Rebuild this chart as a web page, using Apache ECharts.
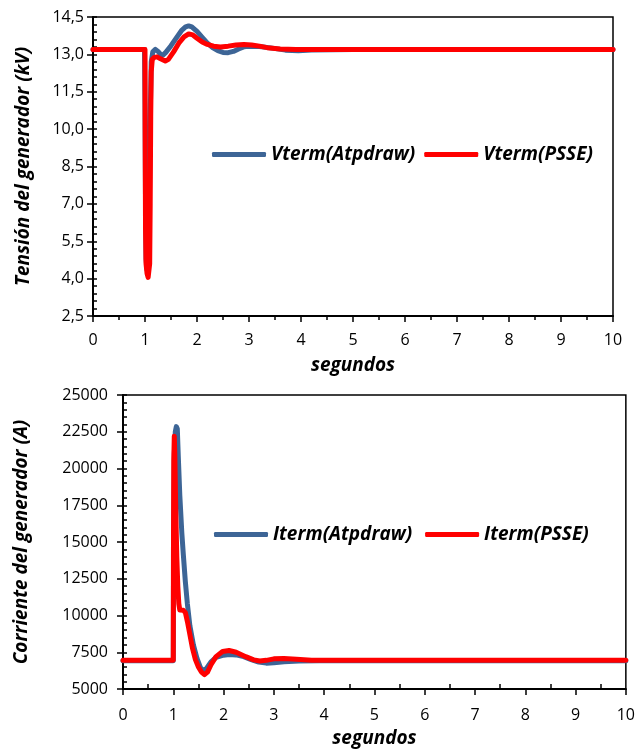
<!DOCTYPE html>
<html>
<head>
<meta charset="utf-8">
<title>Tensión y corriente del generador</title>
<script src="https://cdn.jsdelivr.net/npm/echarts@6/dist/echarts.min.js"></script>
<style>
    html, body { margin: 0; padding: 0; background: #fff; }
    #main { width: 638px; height: 749px; }
</style>
</head>
<body>
<div id="main"></div>
<script>
// Tensión del generador (kV) - Atpdraw
var tVAtp = [0, 0.99, 1.0, 1.01, 1.02, 1.04, 1.06, 1.08, 1.1, 1.12, 1.15, 1.2, 1.25, 1.3, 1.35, 1.4, 1.5, 1.6, 1.7, 1.78, 1.84, 1.9, 2.0, 2.1, 2.2, 2.3, 2.4, 2.5, 2.6, 2.7, 2.8, 2.9, 3.0, 3.2, 3.45, 3.7, 3.95, 4.2, 5, 10];
var vAtp = [13.2, 13.2, 11.0, 7.0, 4.8, 4.35, 4.35, 6.0, 10.5, 12.7, 13.1, 13.2, 13.12, 13.0, 12.98, 13.08, 13.35, 13.65, 13.95, 14.1, 14.14, 14.1, 13.92, 13.68, 13.45, 13.27, 13.15, 13.08, 13.07, 13.12, 13.22, 13.3, 13.33, 13.32, 13.25, 13.17, 13.15, 13.18, 13.2, 13.2];

// Tensión del generador (kV) - PSSE
var tVPsse = [0, 1.0, 1.003, 1.01, 1.02, 1.04, 1.06, 1.07, 1.08, 1.09, 1.1, 1.11, 1.12, 1.14, 1.18, 1.23, 1.3, 1.39, 1.45, 1.55, 1.65, 1.75, 1.84, 1.92, 2.0, 2.1, 2.2, 2.32, 2.45, 2.6, 2.75, 2.9, 3.05, 3.2, 3.35, 3.6, 3.9, 10];
var vPsse = [13.2, 13.2, 10.0, 6.0, 4.6, 4.2, 4.05, 4.0, 4.1, 4.6, 7.0, 10.5, 12.3, 12.8, 12.88, 12.9, 12.82, 12.73, 12.8, 13.1, 13.45, 13.7, 13.82, 13.78, 13.65, 13.5, 13.4, 13.33, 13.3, 13.33, 13.38, 13.4, 13.38, 13.33, 13.27, 13.22, 13.2, 13.2];

// Corriente del generador (A) - Atpdraw
var tIAtp = [0, 1.0, 1.005, 1.02, 1.04, 1.06, 1.07, 1.08, 1.1, 1.13, 1.17, 1.2, 1.24, 1.28, 1.33, 1.4, 1.47, 1.54, 1.6, 1.66, 1.75, 1.85, 2.0, 2.11, 2.25, 2.4, 2.55, 2.7, 2.85, 3.0, 3.2, 3.5, 3.9, 10];
var iAtp = [6920, 6920, 14000, 21000, 22500, 22850, 22900, 22700, 20800, 18150, 15600, 14130, 12300, 10800, 9300, 8000, 7100, 6450, 6250, 6400, 6850, 7150, 7300, 7350, 7320, 7200, 7000, 6830, 6760, 6780, 6860, 6910, 6920, 6920];

// Corriente del generador (A) - PSSE
var tIPsse = [0, 1.0, 1.003, 1.01, 1.02, 1.03, 1.05, 1.07, 1.09, 1.11, 1.13, 1.16, 1.2, 1.24, 1.28, 1.33, 1.38, 1.44, 1.5, 1.56, 1.62, 1.68, 1.75, 1.85, 1.98, 2.11, 2.25, 2.44, 2.6, 2.72, 2.85, 3.0, 3.2, 3.45, 3.75, 10];
var iPsse = [6950, 6950, 14000, 20500, 22200, 21000, 17080, 14000, 12000, 10800, 10370, 10250, 10350, 10200, 9600, 8700, 7800, 7000, 6500, 6150, 5980, 6150, 6650, 7200, 7550, 7620, 7500, 7200, 6980, 6900, 6950, 7050, 7080, 7020, 6960, 6950];

// Ejes
var xTicks = [0, 1, 2, 3, 4, 5, 6, 7, 8, 9, 10];
var vTicks = [2.5, 4.0, 5.5, 7.0, 8.5, 10.0, 11.5, 13.0, 14.5];
var iTicks = [5000, 7500, 10000, 12500, 15000, 17500, 20000, 22500, 25000];

var seriesNames = ['Vterm(Atpdraw)', 'Vterm(PSSE)', 'Iterm(Atpdraw)', 'Iterm(PSSE)'];

var BLUE = '#3d6596';
var RED = '#ff0000';
var FONT = 'Open Sans';

function pairs(t, v) {
    var out = [];
    for (var i = 0; i < t.length; i++) {
        out.push([t[i], v[i]]);
    }
    return out;
}

function lineSeries(name, xi, yi, data, color) {
    return {
        name: name,
        type: 'line',
        xAxisIndex: xi,
        yAxisIndex: yi,
        data: data,
        symbol: 'none',
        showSymbol: false,
        itemStyle: { color: color },
        lineStyle: { width: 5, color: color, cap: 'round', join: 'round' }
    };
}

var axisLineStyle = { show: true, lineStyle: { color: '#000', width: 2 } };
var nameStyle = { color: '#000', fontFamily: FONT, fontSize: 19, fontWeight: 'bold', fontStyle: 'italic' };

// eje X principal
function xMain(gi, margin, gap, minorOut) {
    return {
        type: 'value',
        gridIndex: gi,
        min: xTicks[0],
        max: xTicks[xTicks.length - 1],
        interval: xTicks[1] - xTicks[0],
        name: 'segundos',
        nameLocation: 'middle',
        nameGap: gap,
        nameTextStyle: nameStyle,
        axisLine: axisLineStyle,
        axisTick: { show: true, inside: false, length: 6, lineStyle: { color: '#000', width: 1.5 } },
        minorTick: { show: minorOut, splitNumber: 2, length: 4, lineStyle: { color: '#000', width: 1.5 } },
        axisLabel: { color: '#000', fontFamily: FONT, fontSize: 16, margin: margin },
        splitLine: { show: false }
    };
}

var vFormatter = function (v) { return v.toFixed(1).replace('.', ','); };
var iFormatter = function (v) { return String(v); };

// eje Y principal
function yMain(gi, ticks, name, gap, margin, fmt) {
    return {
        type: 'value',
        gridIndex: gi,
        min: ticks[0],
        max: ticks[ticks.length - 1],
        interval: ticks[1] - ticks[0],
        name: name,
        nameLocation: 'middle',
        nameGap: gap,
        nameTextStyle: nameStyle,
        axisLine: axisLineStyle,
        axisTick: { show: true, inside: false, length: 6, lineStyle: { color: '#000', width: 1.5 } },
        axisLabel: { color: '#000', fontFamily: FONT, fontSize: 16, margin: margin, formatter: fmt },
        splitLine: { show: false }
    };
}

// eje Y superpuesto: solo ticks interiores
function yOverlay(gi, ticks) {
    return {
        type: 'value',
        gridIndex: gi,
        position: 'left',
        min: ticks[0],
        max: ticks[ticks.length - 1],
        interval: ticks[1] - ticks[0],
        axisLine: { show: false },
        axisTick: { show: true, inside: true, length: 4, lineStyle: { color: '#000', width: 1.5 } },
        minorTick: { show: true, splitNumber: 5, length: 4, lineStyle: { color: '#000', width: 1.5 } },
        axisLabel: { show: false },
        splitLine: { show: false }
    };
}

var legendText = { color: '#000', fontFamily: FONT, fontSize: 19, fontWeight: 'bold', fontStyle: 'italic' };

var botXOverlay = {
    type: 'value',
    gridIndex: 1,
    position: 'bottom',
    min: xTicks[0],
    max: xTicks[xTicks.length - 1],
    interval: xTicks[1] - xTicks[0],
    axisLine: { show: false },
    axisTick: { show: false, inside: true },
    minorTick: { show: true, splitNumber: 2, length: 5, lineStyle: { color: '#000', width: 1.5 } },
    axisLabel: { show: false },
    splitLine: { show: false }
};

var option = {
    backgroundColor: '#fff',
    animation: false,
    grid: [
        { left: 93, top: 17, width: 520, height: 299, show: true, borderColor: '#000', borderWidth: 1.5, backgroundColor: 'transparent' },
        { left: 123, top: 395, width: 504, height: 298, show: true, borderColor: '#000', borderWidth: 1.5, backgroundColor: 'transparent' }
    ],
    legend: [
        {
            data: [seriesNames[0], seriesNames[1]],
            left: 207, top: 140,
            icon: 'roundRect', itemWidth: 54, itemHeight: 5, itemGap: 9,
            textStyle: legendText
        },
        {
            data: [seriesNames[2], seriesNames[3]],
            left: 209, top: 520,
            icon: 'roundRect', itemWidth: 54, itemHeight: 5, itemGap: 13,
            textStyle: legendText
        }
    ],
    xAxis: [xMain(0, 16, 40, true), xMain(1, 18, 40, false), botXOverlay],
    yAxis: [
        yMain(0, vTicks, 'Tensión del generador (kV)', 60, 9, vFormatter),
        yOverlay(0, vTicks),
        yMain(1, iTicks, 'Corriente del generador (A)', 92, 15, iFormatter),
        yOverlay(1, iTicks)
    ],
    series: [
        lineSeries(seriesNames[0], 0, 0, pairs(tVAtp, vAtp), BLUE),
        lineSeries(seriesNames[1], 0, 0, pairs(tVPsse, vPsse), RED),
        lineSeries(seriesNames[2], 1, 2, pairs(tIAtp, iAtp), BLUE),
        lineSeries(seriesNames[3], 1, 2, pairs(tIPsse, iPsse), RED)
    ]
};

var myChart = echarts.init(document.getElementById('main'));
myChart.setOption(option);
</script>
</body>
</html>
